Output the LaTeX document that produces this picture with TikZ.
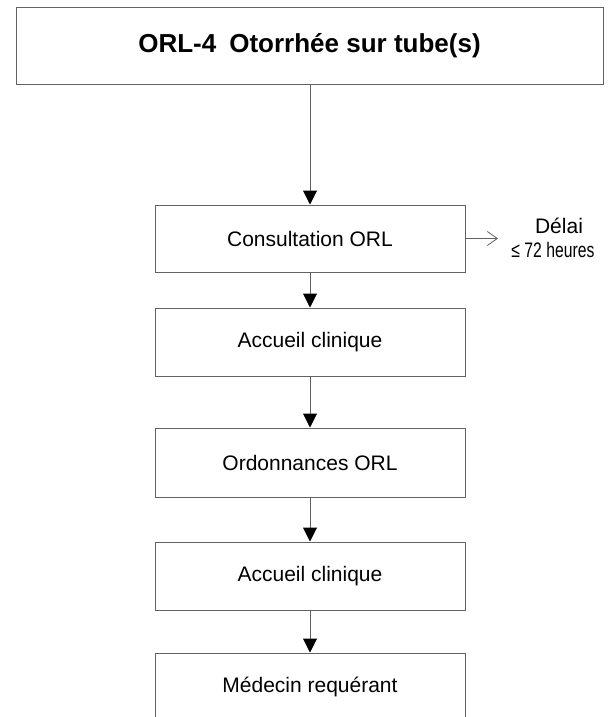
\documentclass[tikz,border=0pt]{standalone}
\usepackage{fontspec}
\setmainfont{Liberation Sans}
\usetikzlibrary{arrows.meta}
\definecolor{edge}{gray}{0.38}
\tikzset{
  box/.style={draw=edge, line width=1pt, fill=white, minimum width=310pt, inner sep=0pt, font=\fontsize{21}{25}\selectfont},
  flow/.style={draw=edge, line width=1pt, -{Triangle[length=14pt,width=14pt,fill=black,color=black]}},
  side/.style={draw=edge, line width=1pt, -{Straight Barb[length=10pt,width=14pt,line width=0.8pt]}}
}
\begin{document}
\begin{tikzpicture}[x=1pt,y=-1pt]
\path[use as bounding box, clip] (0,0) rectangle (609,717);
\fill[white] (0,0) rectangle (609,717);
\node[draw=edge, line width=1pt, minimum width=587pt, minimum height=76pt, inner sep=0pt,
      font=\fontsize{26}{30}\selectfont\bfseries] (title) at (309.5,46) {ORL-4\hspace{0.5em}Otorrhée sur tube(s)};
\node[box, minimum height=67pt] (cons) at (310,238.5) {Consultation ORL};
\node[box, minimum height=68pt] (acc1) at (310,342) {Accueil clinique};
\node[box, minimum height=69pt] (ord) at (310,462.5) {Ordonnances ORL};
\node[box, minimum height=68pt] (acc2) at (310,576) {Accueil clinique};
\node[box, minimum height=68pt] (med) at (310,687) {Médecin requérant};
\coordinate (sideend) at (498,238.5);
\node[font=\fontsize{21}{25}\selectfont, inner sep=0pt, anchor=base] (delai) at (559,233) {Délai};
\node[font=\fontsize{21}{25}\selectfont, inner sep=0pt, anchor=base] (heures) at (553,257) {\scalebox{0.75}[1]{≤ 72 heures}};
\draw[flow] (cons.north |- title.south) -- (cons.north);
\draw[flow] (cons.south) -- (acc1.north);
\draw[flow] (acc1.south) -- (ord.north);
\draw[flow] (ord.south) -- (acc2.north);
\draw[flow] (acc2.south) -- (med.north);
\draw[side] (cons.east) -- (sideend);
\end{tikzpicture}
\end{document}
